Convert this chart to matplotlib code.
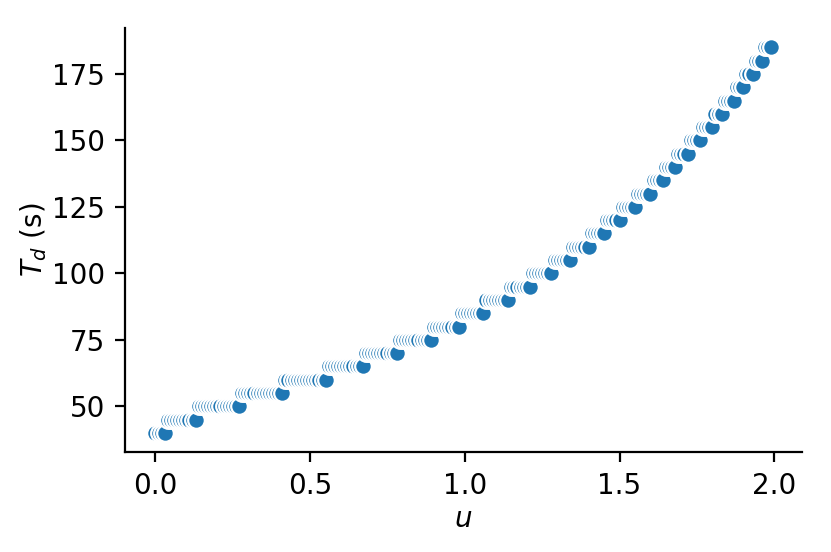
import numpy as np
import pandas as pd
import seaborn as sns
import matplotlib
matplotlib.use("Agg")
import matplotlib.pyplot as plt

# Td steps in 5 s increments, and the last u sample that sits on each step
td_levels = [40, 45, 50, 55, 60, 65, 70, 75, 80, 85, 90, 95, 100, 105, 110,
             115, 120, 125, 130, 135, 140, 145, 150, 155, 160, 165, 170, 175,
             180, 185]
u_last = [0.03, 0.13, 0.27, 0.41, 0.55, 0.67, 0.78, 0.89, 0.98, 1.06, 1.14,
          1.21, 1.28, 1.34, 1.40, 1.45, 1.50, 1.55, 1.60, 1.64, 1.68, 1.72,
          1.76, 1.80, 1.83, 1.87, 1.90, 1.93, 1.96, 1.99]
# u was sampled every 0.01 starting at 0
u_step = 0.01
u_first = 0.0

# build the sample table: each u gets the step it falls on
n_samples = int(round((u_last[-1] - u_first) / u_step)) + 1
u = np.round(u_first + u_step * np.arange(n_samples), 2)
idx = np.searchsorted(np.array(u_last), u - 1e-9)
df = pd.DataFrame({"u": u, "Td": np.array(td_levels)[idx]})

dpi = 200
fig = plt.figure(figsize=(831 / dpi, 552 / dpi), dpi=dpi)
ax = fig.add_axes([0.150, 0.181, 0.815, 0.768])
sns.scatterplot(data=df, x="u", y="Td", ax=ax, linewidth=0.8, edgecolor="w")
sns.despine(ax=ax)

ax.set_xlabel("$u$", labelpad=2)
ax.set_ylabel("$T_d$ (s)", labelpad=1)
ax.set_xticks([0.0, 0.5, 1.0, 1.5, 2.0])
ax.set_yticks([50, 75, 100, 125, 150, 175])

fig.savefig("out.png", dpi=dpi)
